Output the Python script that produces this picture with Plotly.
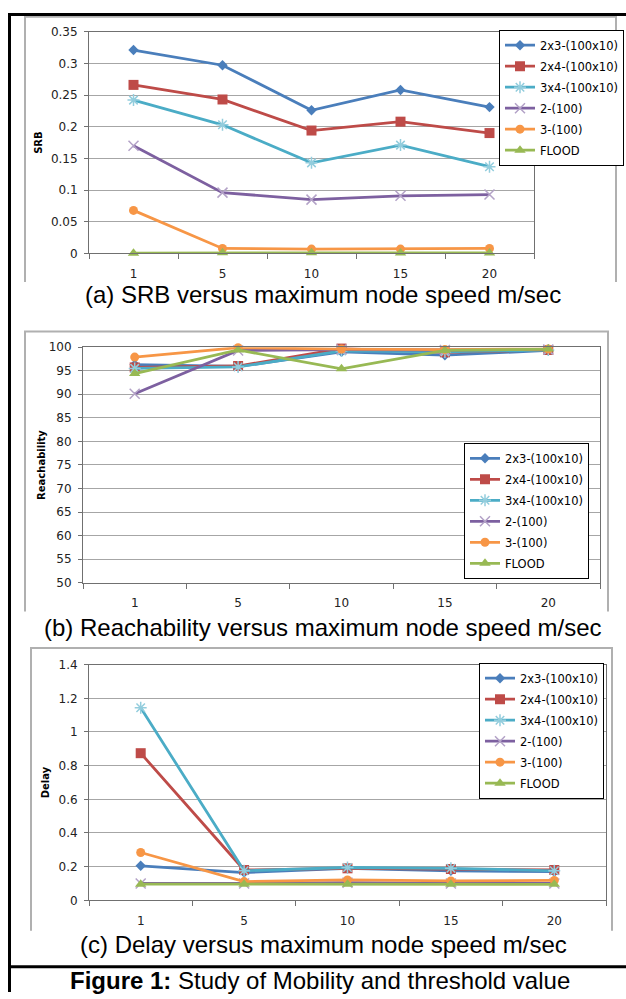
import plotly.graph_objects as go

W, H = 626, 999

categories = ["1", "5", "10", "15", "20"]
series_names = ["2x3-(100x10)", "2x4-(100x10)", "3x4-(100x10)", "2-(100)", "3-(100)", "FLOOD"]

srb_2x3 = [0.321, 0.297, 0.226, 0.258, 0.231]
srb_2x4 = [0.266, 0.243, 0.194, 0.208, 0.190]
srb_3x4 = [0.242, 0.203, 0.143, 0.171, 0.137]
srb_2_100 = [0.170, 0.096, 0.085, 0.091, 0.093]
srb_3_100 = [0.068, 0.008, 0.007, 0.007, 0.008]
srb_flood = [0.0005, 0.001, 0.001, 0.0008, 0.0008]

reach_2x3 = [96.3, 95.9, 99.0, 98.3, 99.3]
reach_2x4 = [95.7, 96.0, 99.7, 98.9, 99.4]
reach_3x4 = [95.5, 95.8, 99.2, 99.0, 99.4]
reach_2_100 = [90.1, 99.3, 99.5, 99.4, 99.5]
reach_3_100 = [97.9, 99.9, 99.6, 99.5, 99.6]
reach_flood = [94.4, 99.4, 95.4, 99.3, 99.6]

delay_2x3 = [0.205, 0.165, 0.190, 0.175, 0.170]
delay_2x4 = [0.874, 0.180, 0.190, 0.186, 0.180]
delay_3x4 = [1.144, 0.175, 0.195, 0.190, 0.175]
delay_2_100 = [0.100, 0.100, 0.105, 0.100, 0.100]
delay_3_100 = [0.284, 0.111, 0.121, 0.115, 0.118]
delay_flood = [0.096, 0.095, 0.096, 0.095, 0.095]

captions = ["(a) SRB versus maximum node speed m/sec",
            "(b) Reachability versus maximum node speed m/sec",
            "(c) Delay versus maximum node speed m/sec"]
y_titles = ["SRB", "Reachability", "Delay"]
figure_caption = "<b>Figure 1:</b> Study of Mobility and threshold value"

line_colors = ["#4A7EBB", "#BE4B48", "#4BACC6", "#7D60A0", "#F79646", "#98B954"]
marker_colors = ["#4A7EBB", "#BE4B48", "#93CDDD", "#B3A2C7", "#F79646", "#98B954"]
symbols = ["diamond", "square", "asterisk-open", "x-thin-open", "circle", "triangle-up"]
msizes = [8, 10, 10, 10, 9, 10]

panels = [
    [srb_2x3, srb_2x4, srb_3x4, srb_2_100, srb_3_100, srb_flood],
    [reach_2x3, reach_2x4, reach_3x4, reach_2_100, reach_3_100, reach_flood],
    [delay_2x3, delay_2x4, delay_3x4, delay_2_100, delay_3_100, delay_flood],
]

def fx(px):
    return px / W

def fy(py):
    return 1 - py / H

# plot-area pixel boxes (left, right, top, bottom)
boxes = [(89, 534, 25, 250), (83, 600, 345, 584), (89, 606, 667, 906)]
yranges = [(0, 0.35, 0.05), (50, 100, 5), (0, 1.4, 0.2)]
legend_pos = [(499, 23), (464, 442), (479, 665)]
standoffs = [6, 1, 6]

fig = go.Figure()
legend_keys = ["legend", "legend2", "legend3"]

for p, data in enumerate(panels):
    sfx = "" if p == 0 else str(p + 1)
    for i, name in enumerate(series_names):
        is_open = symbols[i].endswith("open")
        fig.add_trace(go.Scatter(
            x=categories, y=data[i], name=name, mode="lines+markers",
            xaxis="x" + sfx, yaxis="y" + sfx,
            legend=legend_keys[p], legendgroup=f"p{p}s{i}",
            line=dict(color=line_colors[i], width=2.8),
            marker=dict(symbol=symbols[i], size=msizes[i], color=marker_colors[i],
                        line=dict(width=1.5 if is_open else 0, color=marker_colors[i])),
            cliponaxis=False,
        ))

layout = dict(
    width=W, height=H, margin=dict(l=0, r=0, t=0, b=0),
    paper_bgcolor="white", plot_bgcolor="white", showlegend=True,
    font=dict(family="DejaVu Sans", size=12, color="#222"),
)

for p in range(3):
    sfx = "" if p == 0 else str(p + 1)
    l, r, t, b = boxes[p]
    lo, hi, dt = yranges[p]
    layout["xaxis" + sfx] = dict(
        domain=[fx(l), fx(r)], anchor="y" + sfx, type="category",
        range=[-0.5, 4.5], tickson="boundaries", ticks="outside", ticklen=5,
        tickcolor="#707070", showline=True, linecolor="#707070", linewidth=1,
        mirror=True, showgrid=False, ticklabelstandoff=9,
        tickfont=dict(family="DejaVu Sans", size=12, color="#222"),
    )
    layout["yaxis" + sfx] = dict(
        domain=[fy(b), fy(t)], anchor="x" + sfx, range=[lo, hi], dtick=dt,
        ticks="outside", ticklen=4, tickcolor="#707070", showline=True,
        linecolor="#707070", linewidth=1, mirror=True, showgrid=True,
        gridcolor="#A6A6A6", gridwidth=1, zeroline=False, ticklabelstandoff=4,
        tickfont=dict(family="DejaVu Sans", size=12, color="#222"),
        title=dict(text="<b>" + y_titles[p] + "</b>", standoff=standoffs[p],
                   font=dict(family="DejaVu Sans", size=10, color="black")),
    )
    lx, ly = legend_pos[p]
    layout[legend_keys[p]] = dict(
        x=fx(lx), y=fy(ly), xanchor="left", yanchor="top",
        bgcolor="white", bordercolor="black", borderwidth=1,
        font=dict(family="DejaVu Sans", size=11.5, color="black"),
        traceorder="grouped", tracegroupgap=2, itemclick=False,
    )

fig.update_layout(**layout)

shapes = []
# gray chart-area frames (left, top, right edges)
frames = [(25, 616, 10, 279), (25, 608, 329, 613), (31, 612, 650, 937)]
for (l, r, t, b) in frames:
    shapes.append(dict(type="path", xref="paper", yref="paper",
                       path=f"M {fx(l)},{fy(b)} L {fx(l)},{fy(t)} L {fx(r)},{fy(t)} L {fx(r)},{fy(b)}",
                       line=dict(color="#B0B0B0", width=2)))
# black outer figure borders
shapes.append(dict(type="line", xref="paper", yref="paper", x0=fx(9.5), x1=fx(9.5), y0=fy(6), y1=fy(999),
                   line=dict(color="black", width=3)))
shapes.append(dict(type="line", xref="paper", yref="paper", x0=fx(8), x1=fx(626), y0=fy(7.5), y1=fy(7.5),
                   line=dict(color="black", width=3)))
shapes.append(dict(type="line", xref="paper", yref="paper", x0=fx(8), x1=fx(626), y0=fy(973.5), y1=fy(973.5),
                   line=dict(color="black", width=3)))
fig.update_layout(shapes=shapes)

cap_y = [292, 629, 951]
annotations = []
for p in range(3):
    annotations.append(dict(text=captions[p], xref="paper", yref="paper", x=fx(323), y=fy(cap_y[p]),
                            xanchor="center", yanchor="middle", showarrow=False,
                            font=dict(family="Liberation Sans", size=24, color="black")))
annotations.append(dict(text=figure_caption, xref="paper", yref="paper", x=fx(320), y=fy(987),
                        xanchor="center", yanchor="middle", showarrow=False,
                        font=dict(family="Liberation Sans", size=24, color="black")))
fig.update_layout(annotations=annotations)

fig.write_html("out.html")
